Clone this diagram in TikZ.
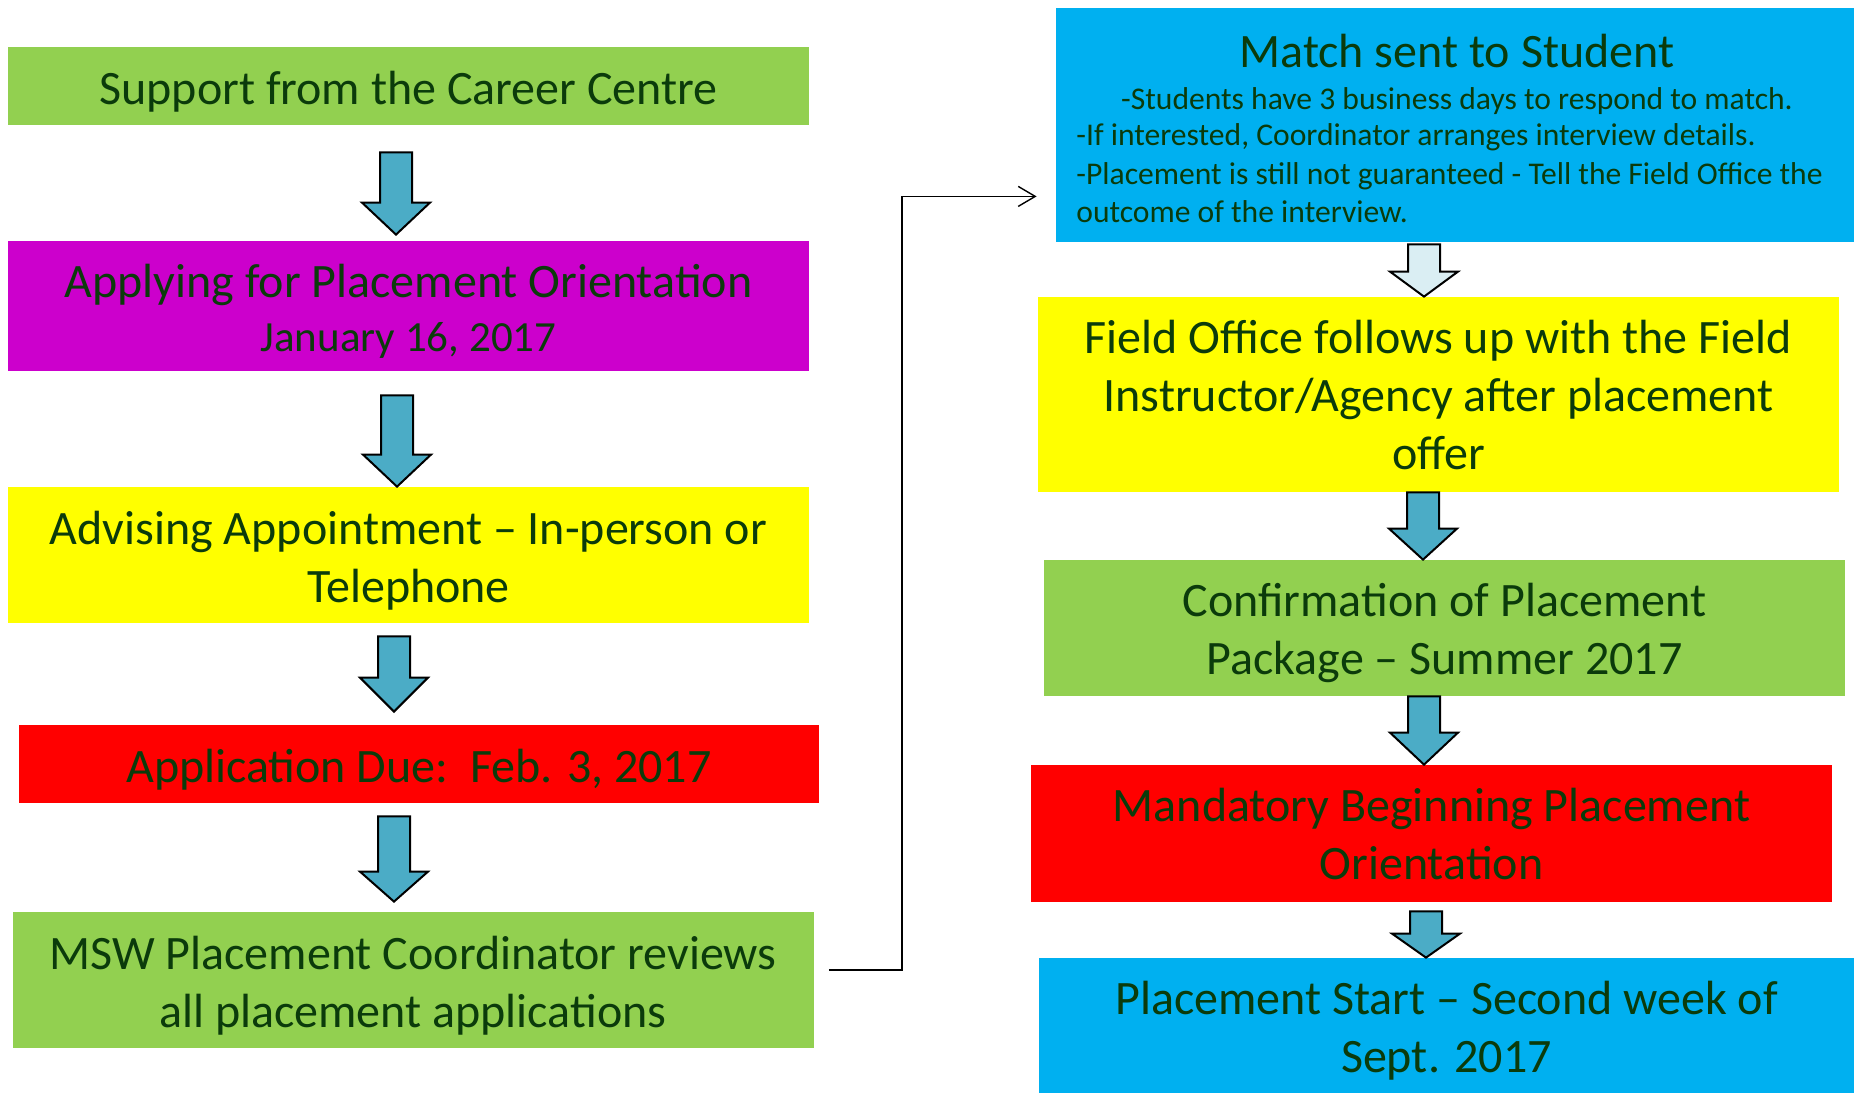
\documentclass[tikz,border=0pt]{standalone}
\usepackage{fontspec}
\setmainfont{Carlito}
\usetikzlibrary{calc,arrows.meta}

\definecolor{boxgreen}{HTML}{92D050}
\definecolor{boxpurple}{HTML}{CC00CC}
\definecolor{boxyellow}{HTML}{FFFF00}
\definecolor{boxred}{HTML}{FF0000}
\definecolor{boxblue}{HTML}{00B0F0}
\definecolor{arrowblue}{HTML}{4BACC6}
\definecolor{arrowpale}{HTML}{DAEEF3}
\definecolor{textgreen}{HTML}{0B3B0B}

% text sits a little low in most boxes
\newcommand{\sunk}{\rule{0pt}{22pt}}

\tikzset{
  stagebox/.style={rectangle, inner sep=0pt, minimum width=400.5pt, align=center,
    text=textgreen, font=\fontsize{24}{29}\selectfont},
  blockarrow/.style={draw=black, line width=1pt, line join=miter},
  link/.style={draw=black, line width=0.7pt, -{Straight Barb[length=8.5pt,width=10pt]}}
}

% block arrow: #2 from, #3 to, #4 x (px), #5 gap under #2, #6 head length, #7 gap over #3
\newcommand{\flowarrow}[7][arrowblue]{%
  \draw[blockarrow, fill=#1] let \p1=(#2.south), \p2=(#3.north) in
    ({#4*0.5pt-8pt},{\y1-#5*0.5pt}) -- ({#4*0.5pt+8pt},{\y1-#5*0.5pt})
    -- ({#4*0.5pt+8pt},{\y2+#7*0.5pt+#6*0.5pt}) -- ({#4*0.5pt+17pt},{\y2+#7*0.5pt+#6*0.5pt})
    -- ({#4*0.5pt},{\y2+#7*0.5pt}) -- ({#4*0.5pt-17pt},{\y2+#7*0.5pt+#6*0.5pt})
    -- ({#4*0.5pt-8pt},{\y2+#7*0.5pt+#6*0.5pt}) -- cycle;}

\begin{document}
\begin{tikzpicture}[x=0.5pt,y=-0.5pt]
% the whole thing is laid out in pixels of the slide, y going down
\useasboundingbox (0,0) rectangle (1854,1093);

% left column
\node[stagebox, fill=boxgreen, minimum height=39pt] (support) at (408.5,86) {\sunk Support from the Career Centre};
\node[stagebox, fill=boxpurple, minimum height=65pt] (orient) at (408.5,306)
  {\sunk Applying for Placement Orientation\\[-2pt] {\fontsize{21.5}{26}\selectfont January 16, 2017}};
\node[stagebox, fill=boxyellow, minimum height=68pt] (advising) at (408.5,555) {\sunk Advising Appointment -- In-person or\\ Telephone};
\node[stagebox, fill=boxred, minimum width=400pt, minimum height=39pt] (deadline) at (419,764) {\sunk Application Due:\ \ Feb. 3, 2017};
\node[stagebox, fill=boxgreen, minimum height=68pt] (review) at (413,980) {\sunk MSW Placement Coordinator reviews\\ all placement applications};

% right column
\node[stagebox, fill=boxblue, minimum width=399pt, minimum height=117pt] (match) at (1455,125) {};
\node[text=textgreen, font=\fontsize{24}{29}\selectfont, inner sep=0pt, anchor=base] (matchtitle) at (1457,67) {Match sent to Student};
\node[text=textgreen, font=\fontsize{15.8}{19.2}\selectfont, inner sep=0pt, anchor=base] (matchlead) at (1457,109)
  {-Students have 3 business days to respond to match.};
\node[text=textgreen, font=\fontsize{15.8}{19.4}\selectfont, inner sep=0pt, anchor=north west, align=left] (matchnotes) at (1076,123)
  {-If interested, Coordinator arranges interview details.\\
   -Placement is still not guaranteed - Tell the Field Office the\\
   outcome of the interview.};
\node[stagebox, fill=boxyellow, minimum height=97.5pt] (followup) at (1438.5,394.5)
  {Field Office follows up with the Field\\ Instructor/Agency after placement\\ offer};
\node[stagebox, fill=boxgreen, minimum height=68pt] (confirm) at (1444.5,628) {\sunk Confirmation of Placement\\ Package -- Summer 2017};
\node[stagebox, fill=boxred, minimum height=68.5pt] (mandatory) at (1431.5,833.5) {Mandatory Beginning Placement\\ Orientation};
\node[stagebox, fill=boxblue, minimum width=407.5pt, minimum height=67.5pt] (start) at (1446.5,1025.5)
  {\sunk Placement Start -- Second week of\\ Sept. 2017};

% down arrows
\flowarrow{support}{orient}{396}{27}{32}{6}
\flowarrow{orient}{advising}{397}{24}{32}{0}
\flowarrow{advising}{deadline}{394}{13}{34}{13}
\flowarrow{deadline}{review}{394}{13}{30}{10}
\flowarrow[arrowpale]{match}{followup}{1424}{2}{25}{0}
\flowarrow{followup}{confirm}{1423}{0}{31}{0}
\flowarrow{confirm}{mandatory}{1424}{0}{32}{0}
\flowarrow{mandatory}{start}{1426}{9}{24}{0}

% jump over to the right column
\draw[link] ($(review.east)+(15,-10)$) -- ++(73,0) |- ($(match.south west)+(-19,-46)$);
\end{tikzpicture}
\end{document}
